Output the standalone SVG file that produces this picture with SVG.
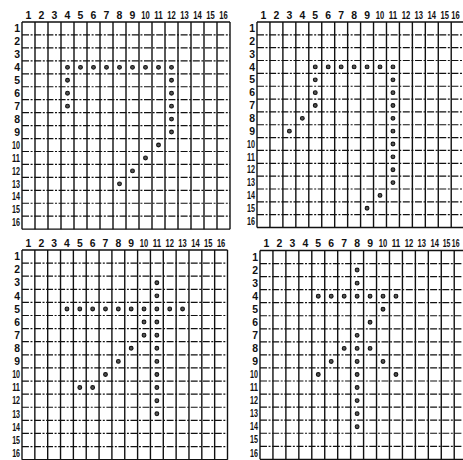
<svg xmlns="http://www.w3.org/2000/svg" xmlns:xlink="http://www.w3.org/1999/xlink" width="463" height="460" viewBox="0 0 463 460">
<style>
.v{fill:none;stroke:#111;stroke-width:1.4}
.h{fill:none;stroke:#111;stroke-width:1.2;stroke-dasharray:7 1.6 2 1.6}
.b{fill:none;stroke:#111;stroke-width:1.4}
.t{font-family:"Liberation Sans",Arial,sans-serif;font-weight:bold;font-size:10.5px;fill:#111}
.c{text-anchor:middle}
.r{text-anchor:end}
.d{fill:#555;stroke:#111;stroke-width:1.1}
</style>
<defs>
<path id="vl" d="M0 0V208M13 0V208M26 0V208M39 0V208M52 0V208M65 0V208M78 0V208M91 0V208M104 0V208M117 0V208M130 0V208M143 0V208M156 0V208M169 0V208M182 0V208M195 0V208M208 0V208"/>
<path id="hl" d="M0 13H208M0 26H208M0 39H208M0 52H208M0 65H208M0 78H208M0 91H208M0 104H208M0 117H208M0 130H208M0 143H208M0 156H208M0 169H208M0 182H208M0 195H208"/>
<path id="bl" d="M0 0H208M0 208H208"/>
</defs>

<g id="grid1" transform="translate(22,22) scale(1,0.996)">
<use xlink:href="#vl" href="#vl" class="v"/><use xlink:href="#hl" href="#hl" class="h"/><use xlink:href="#bl" href="#bl" class="b"/>
<text class="t c" x="6.5" y="-3">1</text><text class="t c" x="19.5" y="-3">2</text><text class="t c" x="32.5" y="-3">3</text><text class="t c" x="45.5" y="-3">4</text><text class="t c" x="58.5" y="-3">5</text><text class="t c" x="71.5" y="-3">6</text><text class="t c" x="84.5" y="-3">7</text><text class="t c" x="97.5" y="-3">8</text><text class="t c" x="110.5" y="-3">9</text><text class="t c" x="123.5" y="-3" textLength="8.5" lengthAdjust="spacingAndGlyphs">10</text><text class="t c" x="136.5" y="-3" textLength="8.5" lengthAdjust="spacingAndGlyphs">11</text><text class="t c" x="149.5" y="-3" textLength="8.5" lengthAdjust="spacingAndGlyphs">12</text><text class="t c" x="162.5" y="-3" textLength="8.5" lengthAdjust="spacingAndGlyphs">13</text><text class="t c" x="175.5" y="-3" textLength="8.5" lengthAdjust="spacingAndGlyphs">14</text><text class="t c" x="188.5" y="-3" textLength="8.5" lengthAdjust="spacingAndGlyphs">15</text><text class="t c" x="201.5" y="-3" textLength="8.5" lengthAdjust="spacingAndGlyphs">16</text>
<text class="t r" x="-2" y="10.2">1</text><text class="t r" x="-2" y="23.2">2</text><text class="t r" x="-2" y="36.2">3</text><text class="t r" x="-2" y="49.2">4</text><text class="t r" x="-2" y="62.2">5</text><text class="t r" x="-2" y="75.2">6</text><text class="t r" x="-2" y="88.2">7</text><text class="t r" x="-2" y="101.2">8</text><text class="t r" x="-2" y="114.2">9</text><text class="t r" x="-2" y="127.2" textLength="8" lengthAdjust="spacingAndGlyphs">10</text><text class="t r" x="-2" y="140.2" textLength="8" lengthAdjust="spacingAndGlyphs">11</text><text class="t r" x="-2" y="153.2" textLength="8" lengthAdjust="spacingAndGlyphs">12</text><text class="t r" x="-2" y="166.2" textLength="8" lengthAdjust="spacingAndGlyphs">13</text><text class="t r" x="-2" y="179.2" textLength="8" lengthAdjust="spacingAndGlyphs">14</text><text class="t r" x="-2" y="192.2" textLength="8" lengthAdjust="spacingAndGlyphs">15</text><text class="t r" x="-2" y="205.2" textLength="8" lengthAdjust="spacingAndGlyphs">16</text>
<g class="d">
<circle cx="45.5" cy="45.5" r="1.9"/><circle cx="58.5" cy="45.5" r="1.9"/><circle cx="71.5" cy="45.5" r="1.9"/><circle cx="84.5" cy="45.5" r="1.9"/><circle cx="97.5" cy="45.5" r="1.9"/><circle cx="110.5" cy="45.5" r="1.9"/><circle cx="123.5" cy="45.5" r="1.9"/><circle cx="136.5" cy="45.5" r="1.9"/><circle cx="149.5" cy="45.5" r="1.9"/>
<circle cx="45.5" cy="58.5" r="1.9"/><circle cx="45.5" cy="71.5" r="1.9"/><circle cx="45.5" cy="84.5" r="1.9"/>
<circle cx="149.5" cy="58.5" r="1.9"/><circle cx="149.5" cy="71.5" r="1.9"/><circle cx="149.5" cy="84.5" r="1.9"/><circle cx="149.5" cy="97.5" r="1.9"/><circle cx="149.5" cy="110.5" r="1.9"/>
<circle cx="136.5" cy="123.5" r="1.9"/><circle cx="123.5" cy="136.5" r="1.9"/><circle cx="110.5" cy="149.5" r="1.9"/><circle cx="97.5" cy="162.5" r="1.9"/>
</g>
</g>

<g id="grid2" transform="translate(257,22) scale(0.996,0.988)">
<use xlink:href="#vl" href="#vl" class="v"/><use xlink:href="#hl" href="#hl" class="h"/><use xlink:href="#bl" href="#bl" class="b"/>
<text class="t c" x="6.5" y="-3">1</text><text class="t c" x="19.5" y="-3">2</text><text class="t c" x="32.5" y="-3">3</text><text class="t c" x="45.5" y="-3">4</text><text class="t c" x="58.5" y="-3">5</text><text class="t c" x="71.5" y="-3">6</text><text class="t c" x="84.5" y="-3">7</text><text class="t c" x="97.5" y="-3">8</text><text class="t c" x="110.5" y="-3">9</text><text class="t c" x="123.5" y="-3" textLength="8.5" lengthAdjust="spacingAndGlyphs">10</text><text class="t c" x="136.5" y="-3" textLength="8.5" lengthAdjust="spacingAndGlyphs">11</text><text class="t c" x="149.5" y="-3" textLength="8.5" lengthAdjust="spacingAndGlyphs">12</text><text class="t c" x="162.5" y="-3" textLength="8.5" lengthAdjust="spacingAndGlyphs">13</text><text class="t c" x="175.5" y="-3" textLength="8.5" lengthAdjust="spacingAndGlyphs">14</text><text class="t c" x="188.5" y="-3" textLength="8.5" lengthAdjust="spacingAndGlyphs">15</text><text class="t r" x="203.5" y="-3" textLength="8.5" lengthAdjust="spacingAndGlyphs">16</text>
<text class="t r" x="-2" y="10.2">1</text><text class="t r" x="-2" y="23.2">2</text><text class="t r" x="-2" y="36.2">3</text><text class="t r" x="-2" y="49.2">4</text><text class="t r" x="-2" y="62.2">5</text><text class="t r" x="-2" y="75.2">6</text><text class="t r" x="-2" y="88.2">7</text><text class="t r" x="-2" y="101.2">8</text><text class="t r" x="-2" y="114.2">9</text><text class="t r" x="-2" y="127.2" textLength="8" lengthAdjust="spacingAndGlyphs">10</text><text class="t r" x="-2" y="140.2" textLength="8" lengthAdjust="spacingAndGlyphs">11</text><text class="t r" x="-2" y="153.2" textLength="8" lengthAdjust="spacingAndGlyphs">12</text><text class="t r" x="-2" y="166.2" textLength="8" lengthAdjust="spacingAndGlyphs">13</text><text class="t r" x="-2" y="179.2" textLength="8" lengthAdjust="spacingAndGlyphs">14</text><text class="t r" x="-2" y="192.2" textLength="8" lengthAdjust="spacingAndGlyphs">15</text><text class="t r" x="-2" y="205.2" textLength="8" lengthAdjust="spacingAndGlyphs">16</text>
<g class="d">
<circle cx="58.5" cy="45.5" r="1.9"/><circle cx="71.5" cy="45.5" r="1.9"/><circle cx="84.5" cy="45.5" r="1.9"/><circle cx="97.5" cy="45.5" r="1.9"/><circle cx="110.5" cy="45.5" r="1.9"/><circle cx="123.5" cy="45.5" r="1.9"/><circle cx="136.5" cy="45.5" r="1.9"/>
<circle cx="58.5" cy="58.5" r="1.9"/><circle cx="58.5" cy="71.5" r="1.9"/><circle cx="58.5" cy="84.5" r="1.9"/>
<circle cx="45.5" cy="97.5" r="1.9"/><circle cx="32.5" cy="110.5" r="1.9"/>
<circle cx="136.5" cy="58.5" r="1.9"/><circle cx="136.5" cy="71.5" r="1.9"/><circle cx="136.5" cy="84.5" r="1.9"/><circle cx="136.5" cy="97.5" r="1.9"/><circle cx="136.5" cy="110.5" r="1.9"/><circle cx="136.5" cy="123.5" r="1.9"/><circle cx="136.5" cy="136.5" r="1.9"/><circle cx="136.5" cy="149.5" r="1.9"/><circle cx="136.5" cy="162.5" r="1.9"/>
<circle cx="123.5" cy="175.5" r="1.9"/><circle cx="110.5" cy="188.5" r="1.9"/>
</g>
</g>

<g id="grid3" transform="translate(22,250) scale(0.988,1.008)">
<use xlink:href="#vl" href="#vl" class="v"/><use xlink:href="#hl" href="#hl" class="h"/><use xlink:href="#bl" href="#bl" class="b"/>
<text class="t c" x="6.5" y="-3">1</text><text class="t c" x="19.5" y="-3">2</text><text class="t c" x="32.5" y="-3">3</text><text class="t c" x="45.5" y="-3">4</text><text class="t c" x="58.5" y="-3">5</text><text class="t c" x="71.5" y="-3">6</text><text class="t c" x="84.5" y="-3">7</text><text class="t c" x="97.5" y="-3">8</text><text class="t c" x="110.5" y="-3">9</text><text class="t c" x="123.5" y="-3" textLength="8.5" lengthAdjust="spacingAndGlyphs">10</text><text class="t c" x="136.5" y="-3" textLength="8.5" lengthAdjust="spacingAndGlyphs">11</text><text class="t c" x="149.5" y="-3" textLength="8.5" lengthAdjust="spacingAndGlyphs">12</text><text class="t c" x="162.5" y="-3" textLength="8.5" lengthAdjust="spacingAndGlyphs">13</text><text class="t c" x="175.5" y="-3" textLength="8.5" lengthAdjust="spacingAndGlyphs">14</text><text class="t c" x="188.5" y="-3" textLength="8.5" lengthAdjust="spacingAndGlyphs">15</text><text class="t c" x="201.5" y="-3" textLength="8.5" lengthAdjust="spacingAndGlyphs">16</text>
<text class="t r" x="-2" y="10.2">1</text><text class="t r" x="-2" y="23.2">2</text><text class="t r" x="-2" y="36.2">3</text><text class="t r" x="-2" y="49.2">4</text><text class="t r" x="-2" y="62.2">5</text><text class="t r" x="-2" y="75.2">6</text><text class="t r" x="-2" y="88.2">7</text><text class="t r" x="-2" y="101.2">8</text><text class="t r" x="-2" y="114.2">9</text><text class="t r" x="-2" y="127.2" textLength="8" lengthAdjust="spacingAndGlyphs">10</text><text class="t r" x="-2" y="140.2" textLength="8" lengthAdjust="spacingAndGlyphs">11</text><text class="t r" x="-2" y="153.2" textLength="8" lengthAdjust="spacingAndGlyphs">12</text><text class="t r" x="-2" y="166.2" textLength="8" lengthAdjust="spacingAndGlyphs">13</text><text class="t r" x="-2" y="179.2" textLength="8" lengthAdjust="spacingAndGlyphs">14</text><text class="t r" x="-2" y="192.2" textLength="8" lengthAdjust="spacingAndGlyphs">15</text><text class="t r" x="-2" y="205.2" textLength="8" lengthAdjust="spacingAndGlyphs">16</text>
<g class="d">
<circle cx="136.5" cy="32.5" r="1.9"/><circle cx="136.5" cy="45.5" r="1.9"/><circle cx="136.5" cy="58.5" r="1.9"/><circle cx="136.5" cy="71.5" r="1.9"/><circle cx="136.5" cy="84.5" r="1.9"/><circle cx="136.5" cy="97.5" r="1.9"/><circle cx="136.5" cy="110.5" r="1.9"/><circle cx="136.5" cy="123.5" r="1.9"/><circle cx="136.5" cy="136.5" r="1.9"/><circle cx="136.5" cy="149.5" r="1.9"/><circle cx="136.5" cy="162.5" r="1.9"/>
<circle cx="45.5" cy="58.5" r="1.9"/><circle cx="58.5" cy="58.5" r="1.9"/><circle cx="71.5" cy="58.5" r="1.9"/><circle cx="84.5" cy="58.5" r="1.9"/><circle cx="97.5" cy="58.5" r="1.9"/><circle cx="110.5" cy="58.5" r="1.9"/><circle cx="123.5" cy="58.5" r="1.9"/><circle cx="149.5" cy="58.5" r="1.9"/><circle cx="162.5" cy="58.5" r="1.9"/>
<circle cx="123.5" cy="71.5" r="1.9"/><circle cx="123.5" cy="84.5" r="1.9"/>
<circle cx="110.5" cy="97.5" r="1.9"/><circle cx="97.5" cy="110.5" r="1.9"/><circle cx="84.5" cy="123.5" r="1.9"/>
<circle cx="58.5" cy="136.5" r="1.9"/><circle cx="71.5" cy="136.5" r="1.9"/>
</g>
</g>

<g id="grid4" transform="translate(260,250.5) scale(0.996,1.004)">
<use xlink:href="#vl" href="#vl" class="v"/><use xlink:href="#hl" href="#hl" class="h"/><use xlink:href="#bl" href="#bl" class="b"/>
<text class="t c" x="6.5" y="-3">1</text><text class="t c" x="19.5" y="-3">2</text><text class="t c" x="32.5" y="-3">3</text><text class="t c" x="45.5" y="-3">4</text><text class="t c" x="58.5" y="-3">5</text><text class="t c" x="71.5" y="-3">6</text><text class="t c" x="84.5" y="-3">7</text><text class="t c" x="97.5" y="-3">8</text><text class="t c" x="110.5" y="-3">9</text><text class="t c" x="123.5" y="-3" textLength="8.5" lengthAdjust="spacingAndGlyphs">10</text><text class="t c" x="136.5" y="-3" textLength="8.5" lengthAdjust="spacingAndGlyphs">11</text><text class="t c" x="149.5" y="-3" textLength="8.5" lengthAdjust="spacingAndGlyphs">12</text><text class="t c" x="162.5" y="-3" textLength="8.5" lengthAdjust="spacingAndGlyphs">13</text><text class="t c" x="175.5" y="-3" textLength="8.5" lengthAdjust="spacingAndGlyphs">14</text><text class="t c" transform="translate(187.3,-3) scale(0.66,1)">15</text><text class="t r" transform="translate(200.3,-3) scale(0.66,1)">16</text>
<text class="t r" x="-2" y="10.2">1</text><text class="t r" x="-2" y="23.2">2</text><text class="t r" x="-2" y="36.2">3</text><text class="t r" x="-2" y="49.2">4</text><text class="t r" x="-2" y="62.2">5</text><text class="t r" x="-2" y="75.2">6</text><text class="t r" x="-2" y="88.2">7</text><text class="t r" x="-2" y="101.2">8</text><text class="t r" x="-2" y="114.2">9</text><text class="t r" x="-2" y="127.2" textLength="8" lengthAdjust="spacingAndGlyphs">10</text><text class="t r" x="-2" y="140.2" textLength="8" lengthAdjust="spacingAndGlyphs">11</text><text class="t r" x="-2" y="153.2" textLength="8" lengthAdjust="spacingAndGlyphs">12</text><text class="t r" x="-2" y="166.2" textLength="8" lengthAdjust="spacingAndGlyphs">13</text><text class="t r" x="-2" y="179.2" textLength="8" lengthAdjust="spacingAndGlyphs">14</text><text class="t r" x="-2" y="192.2" textLength="8" lengthAdjust="spacingAndGlyphs">15</text><text class="t r" x="-2" y="205.2" textLength="8" lengthAdjust="spacingAndGlyphs">16</text>
<g class="d">
<circle cx="97.5" cy="19.5" r="1.9"/><circle cx="97.5" cy="32.5" r="1.9"/>
<circle cx="58.5" cy="45.5" r="1.9"/><circle cx="71.5" cy="45.5" r="1.9"/><circle cx="84.5" cy="45.5" r="1.9"/><circle cx="97.5" cy="45.5" r="1.9"/><circle cx="110.5" cy="45.5" r="1.9"/><circle cx="123.5" cy="45.5" r="1.9"/><circle cx="136.5" cy="45.5" r="1.9"/>
<circle cx="123.5" cy="58.5" r="1.9"/><circle cx="110.5" cy="71.5" r="1.9"/><circle cx="97.5" cy="84.5" r="1.9"/>
<circle cx="84.5" cy="97.5" r="1.9"/><circle cx="97.5" cy="97.5" r="1.9"/><circle cx="110.5" cy="97.5" r="1.9"/>
<circle cx="71.5" cy="110.5" r="1.9"/><circle cx="97.5" cy="110.5" r="1.9"/><circle cx="123.5" cy="110.5" r="1.9"/>
<circle cx="58.5" cy="123.5" r="1.9"/><circle cx="97.5" cy="123.5" r="1.9"/><circle cx="136.5" cy="123.5" r="1.9"/>
<circle cx="97.5" cy="136.5" r="1.9"/><circle cx="97.5" cy="149.5" r="1.9"/><circle cx="97.5" cy="162.5" r="1.9"/><circle cx="97.5" cy="175.5" r="1.9"/>
</g>
</g>
</svg>
